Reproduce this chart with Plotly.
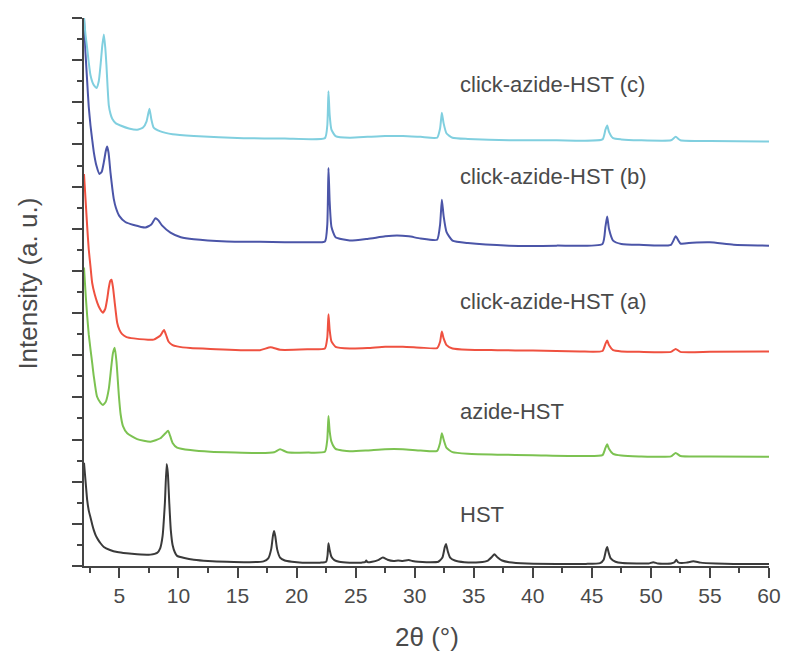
import plotly.graph_objects as go

# ---- data (2θ in degrees, intensity in arbitrary offset units) ----
hst_x = [2.0, 2.15, 2.27, 2.4, 2.55, 2.7, 2.83, 3.0, 3.2, 3.4, 3.68, 4.2, 4.81, 5.6, 6.5, 7.63,
         8.19, 8.45, 8.65, 8.85, 9.0, 9.1, 9.22, 9.35, 9.5, 9.7, 9.88, 10.5, 11.3, 12.5, 14.1,
         16.0, 17.2, 17.6, 17.85, 18.0, 18.1, 18.2, 18.35, 18.6, 19.0, 19.6, 20.5, 22.0, 22.5,
         22.62, 22.7, 22.8, 22.95, 23.2, 23.6, 24.5, 25.5, 25.8, 25.9, 26.0, 26.4, 26.9, 27.3,
         27.7, 28.2, 28.6, 29.0, 29.5, 29.8, 30.3, 31.0, 32.0, 32.35, 32.55, 32.65, 32.8, 33.0,
         33.4, 34.2, 35.5, 36.2, 36.55, 36.75, 37.0, 37.4, 38.0, 39.5, 42.0, 44.5, 45.7, 46.0,
         46.2, 46.3, 46.42, 46.6, 47.0, 47.6, 48.8, 49.8, 50.2, 50.6, 51.7, 52.0, 52.15, 52.3,
         52.6, 53.0, 53.6, 54.2, 55.5, 57.0, 60.0]
hst_y = [2.45, 1.95, 1.56, 1.32, 1.15, 0.98, 0.85, 0.72, 0.62, 0.54, 0.45, 0.38, 0.33, 0.30, 0.28, 0.27,
         0.31, 0.42, 0.7, 1.5, 2.42, 2.2, 1.5, 0.85, 0.5, 0.32, 0.24, 0.19, 0.15, 0.12, 0.10,
         0.09, 0.11, 0.18, 0.4, 0.72, 0.83, 0.7, 0.4, 0.2, 0.13, 0.1, 0.08, 0.08, 0.1,
         0.25, 0.54, 0.38, 0.22, 0.14, 0.1, 0.08, 0.08, 0.09, 0.13, 0.09, 0.1, 0.14, 0.2,
         0.15, 0.12, 0.13, 0.12, 0.14, 0.12, 0.1, 0.09, 0.1, 0.2, 0.45, 0.52, 0.35, 0.2,
         0.13, 0.09, 0.09, 0.13, 0.22, 0.28, 0.21, 0.13, 0.09, 0.06, 0.05, 0.05, 0.07, 0.15,
         0.38, 0.45, 0.32, 0.18, 0.1, 0.07, 0.06, 0.06, 0.09, 0.06, 0.06, 0.09, 0.15, 0.09,
         0.07, 0.08, 0.11, 0.08, 0.06, 0.05, 0.05]

azide_x = [2.0, 2.15, 2.27, 2.4, 2.55, 2.7, 2.83, 3.1, 3.4, 3.6, 3.85, 4.1, 4.3, 4.45, 4.6,
           4.75, 4.95, 5.1, 5.3, 5.66, 6.5, 7.63, 8.47, 8.9, 9.12, 9.3, 9.5, 9.88, 11.0, 12.7,
           16.9, 18.1, 18.6, 19.2, 21.0, 22.4, 22.6, 22.7, 22.8, 22.95, 23.3, 24.5, 26.0, 27.5,
           29.0, 30.5, 31.9, 32.15, 32.3, 32.45, 32.7, 33.2, 34.5, 37.0, 40.0, 44.0, 45.9,
           46.15, 46.3, 46.45, 46.8, 47.5, 49.0, 51.7, 52.1, 52.5, 55.0, 60.0]
azide_y = [7.08, 6.4, 5.93, 5.5, 5.14, 4.8, 4.5, 4.02, 3.87, 3.82, 3.9, 4.2, 4.7, 5.05, 5.18,
           4.85, 4.05, 3.6, 3.32, 3.15, 3.01, 2.95, 3.03, 3.15, 3.21, 3.08, 2.92, 2.81, 2.75, 2.71,
           2.68, 2.7, 2.77, 2.7, 2.69, 2.71, 3.0, 3.56, 3.2, 2.95, 2.78, 2.72, 2.74, 2.77,
           2.77, 2.74, 2.73, 2.92, 3.15, 3.0, 2.8, 2.7, 2.66, 2.64, 2.63, 2.61, 2.63,
           2.8, 2.89, 2.78, 2.66, 2.62, 2.6, 2.6, 2.68, 2.61, 2.6, 2.59]

clicka_x = [2.0, 2.13, 2.27, 2.4, 2.55, 2.69, 2.9, 3.12, 3.35, 3.59, 3.8, 3.96, 4.1, 4.22, 4.33,
            4.45, 4.6, 4.81, 5.0, 5.23, 5.6, 6.21, 7.9, 8.47, 8.65, 8.78, 8.95, 9.17, 9.5, 9.88,
            11.0, 12.7, 16.9, 17.8, 18.6, 21.0, 22.4, 22.6, 22.7, 22.8, 22.95, 23.3, 24.5, 26.0,
            27.5, 29.0, 30.5, 31.9, 32.15, 32.3, 32.45, 32.7, 33.2, 34.5, 37.0, 40.0, 44.0, 45.9,
            46.15, 46.3, 46.45, 46.8, 47.5, 49.0, 51.7, 52.1, 52.5, 55.0, 60.0]
clicka_y = [9.3, 8.7, 8.05, 7.52, 7.1, 6.72, 6.45, 6.25, 6.1, 6.01, 6.1, 6.33, 6.6, 6.76, 6.79,
            6.62, 6.25, 5.77, 5.6, 5.5, 5.43, 5.4, 5.37, 5.47, 5.55, 5.6, 5.48, 5.32, 5.24, 5.21,
            5.17, 5.15, 5.12, 5.19, 5.13, 5.14, 5.16, 5.42, 5.97, 5.6, 5.33, 5.2, 5.16, 5.17,
            5.2, 5.2, 5.18, 5.17, 5.32, 5.56, 5.4, 5.24, 5.16, 5.13, 5.12, 5.11, 5.09, 5.1,
            5.27, 5.35, 5.24, 5.12, 5.09, 5.08, 5.08, 5.15, 5.08, 5.08, 5.09]

clickb_x = [2.0, 2.12, 2.27, 2.4, 2.55, 2.7, 2.83, 3.05, 3.31, 3.5, 3.68, 3.85, 3.96, 4.08, 4.24,
            4.4, 4.52, 4.7, 5.0, 5.5, 6.21, 7.2, 7.7, 8.05, 8.3, 8.6, 9.32, 10.2, 11.3, 14.1,
            16.9, 19.0, 21.0, 22.4, 22.6, 22.7, 22.8, 22.95, 23.3, 24.5, 26.0, 27.5, 28.5, 29.5,
            30.5, 31.9, 32.15, 32.3, 32.45, 32.7, 33.2, 34.5, 38.0, 42.0, 45.9, 46.15, 46.3,
            46.45, 46.8, 47.5, 49.0, 51.7, 52.1, 52.5, 53.5, 55.0, 57.0, 60.0]
clickb_y = [13.0, 12.2, 11.49, 10.9, 10.45, 10.1, 9.82, 9.5, 9.3, 9.35, 9.58, 9.85, 9.95, 9.8, 9.34,
            8.95, 8.71, 8.5, 8.3, 8.16, 8.09, 8.03, 8.1, 8.25, 8.2, 8.08, 7.91, 7.8, 7.75, 7.7,
            7.69, 7.68, 7.68, 7.7, 8.1, 9.44, 8.65, 8.05, 7.8, 7.72, 7.76, 7.82, 7.84, 7.82,
            7.77, 7.74, 8.1, 8.69, 8.3, 7.92, 7.72, 7.66, 7.6, 7.6, 7.64, 8.05, 8.29,
            8.0, 7.72, 7.64, 7.62, 7.62, 7.82, 7.65, 7.67, 7.68, 7.62, 7.6]

clickc_x = [2.0, 2.13, 2.27, 2.4, 2.55, 2.8, 3.06, 3.25, 3.4, 3.55, 3.68, 3.8, 3.9, 4.0, 4.1,
            4.25, 4.39, 4.7, 5.09, 5.8, 6.5, 7.0, 7.3, 7.54, 7.7, 7.9, 8.47, 9.5, 11.3, 15.5,
            19.0, 22.4, 22.6, 22.7, 22.8, 22.95, 23.3, 24.5, 26.0, 27.5, 29.0, 30.5, 31.9,
            32.15, 32.3, 32.45, 32.7, 33.2, 34.5, 38.0, 42.0, 45.9, 46.15, 46.3, 46.45, 46.8,
            47.5, 49.0, 51.7, 52.1, 52.5, 55.0, 60.0]
clickc_y = [13.0, 12.6, 12.28, 11.95, 11.64, 11.42, 11.34, 11.5, 11.88, 12.35, 12.61, 12.3, 11.88, 11.35, 10.93,
            10.72, 10.61, 10.5, 10.45, 10.38, 10.35, 10.4, 10.55, 10.85, 10.6, 10.4, 10.31, 10.24, 10.2, 10.15,
            10.14, 10.15, 10.45, 11.26, 10.7, 10.35, 10.2, 10.16, 10.18, 10.2, 10.2, 10.18, 10.16,
            10.38, 10.75, 10.5, 10.26, 10.16, 10.13, 10.1, 10.1, 10.12, 10.35, 10.45, 10.3, 10.15,
            10.12, 10.1, 10.1, 10.18, 10.1, 10.08, 10.07]

series_names = ["HST", "azide-HST", "click-azide-HST (a)", "click-azide-HST (b)", "click-azide-HST (c)"]
series_x = [hst_x, azide_x, clicka_x, clickb_x, clickc_x]
series_y = [hst_y, azide_y, clicka_y, clickb_y, clickc_y]
series_colors = ["#3a3a3a", "#7cc251", "#ef5140", "#4b55a8", "#80cfdf"]
label_y = [1.22, 3.66, 6.28, 9.23, 11.42]
label_x = 33.7

x_ticks = [5, 10, 15, 20, 25, 30, 35, 40, 45, 50, 55, 60]

fig = go.Figure()
for name, xs, ys, col in zip(series_names, series_x, series_y, series_colors):
    fig.add_trace(go.Scatter(x=xs, y=ys, mode="lines", name=name,
                             line=dict(color=col, width=2, shape="spline", smoothing=0.5),
                             showlegend=False, cliponaxis=True))

for name, ly in zip(series_names, label_y):
    fig.add_annotation(x=label_x, y=ly, text=name, showarrow=False, xanchor="left",
                       yanchor="middle", font=dict(size=22, color="#4a4a4a"))

fig.add_annotation(x=0.5, xref="paper", y=-0.13, yref="paper", text="2θ (°)", showarrow=False,
                   xanchor="center", yanchor="middle", font=dict(size=26, color="#4a4a4a"))
fig.add_annotation(x=-0.082, xref="paper", y=0.515, yref="paper", text="Intensity (a. u.)",
                   showarrow=False, textangle=-90, xanchor="center", yanchor="middle",
                   font=dict(size=26, color="#4a4a4a"))

fig.update_layout(
    width=785, height=655,
    margin=dict(l=84, r=16, t=18, b=89),
    paper_bgcolor="white", plot_bgcolor="white",
    font=dict(family="Liberation Sans, Arial, sans-serif", color="#4a4a4a"),
    xaxis=dict(range=[2, 60], tickvals=x_ticks, ticktext=[str(t) for t in x_ticks],
               automargin=False,
               ticks="outside", ticklen=10, tickwidth=2, tickcolor="#444444",
               showline=True, linecolor="#444444", linewidth=2, showgrid=False, zeroline=False,
               tickfont=dict(size=21, color="#4a4a4a"),
               minor=dict(tick0=0, dtick=2.5, ticks="outside", ticklen=5, tickwidth=2,
                          tickcolor="#444444", showgrid=False)),
    yaxis=dict(range=[0, 13], tick0=0, dtick=1, ticks="outside", ticklen=10, tickwidth=2,
               automargin=False,
               tickcolor="#444444", showticklabels=False,
               showline=True, linecolor="#444444", linewidth=2, showgrid=False, zeroline=False,
               minor=dict(tick0=0, dtick=0.5, ticks="outside", ticklen=5, tickwidth=2,
                          tickcolor="#444444", showgrid=False)),
)

fig.write_html("out.html", config={"displayModeBar": False},
               post_script="document.body.style.margin='0';")
